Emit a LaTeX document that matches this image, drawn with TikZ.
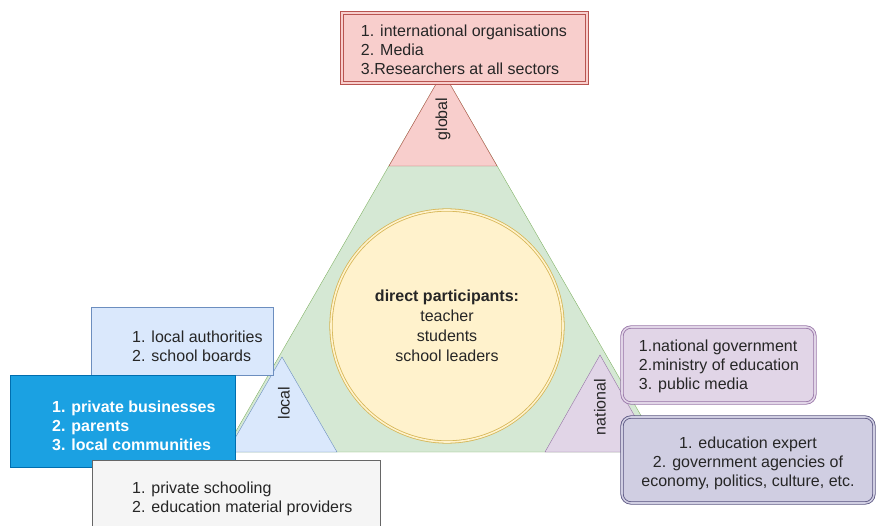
\documentclass[tikz,border=0pt]{standalone}
\usepackage{fontspec}
\setmainfont{Liberation Sans}
\usepackage{tikz}
\definecolor{redfill}{HTML}{F8CECC}
\definecolor{redline}{HTML}{B85450}
\definecolor{greenfill}{HTML}{D5E8D4}
\definecolor{greenline}{HTML}{82B366}
\definecolor{yellowfill}{HTML}{FFF2CC}
\definecolor{yellowline}{HTML}{D6B656}
\definecolor{bluefill}{HTML}{DAE8FC}
\definecolor{blueline}{HTML}{6C8EBF}
\definecolor{deepfill}{HTML}{1BA1E2}
\definecolor{deepline}{HTML}{006EAF}
\definecolor{grayfill}{HTML}{F5F5F5}
\definecolor{grayline}{HTML}{666666}
\definecolor{purplefill}{HTML}{E1D5E7}
\definecolor{purpleline}{HTML}{9673A6}
\definecolor{slatefill}{HTML}{D0CEE2}
\definecolor{slateline}{HTML}{56517E}
\definecolor{ink}{HTML}{262626}
\tikzstyle{every node}=[font=\fontsize{16}{19}\selectfont,text=ink,inner sep=0pt]
\tikzstyle{level label}=[rotate=90]
\tikzstyle{listtext}=[align=left]
\tikzstyle{double line}=[line width=0.8pt,double distance=1.6pt]
\newcommand{\level}[6]{
  \draw[fill=#1, draw=#2] (#3, #4) -- (#3-#5, #6) -- (#3+#5, #6) -- cycle;
}

\begin{document}
\begin{tikzpicture}[x=1pt,y=-1pt]
\useasboundingbox (0,0) rectangle (877,526);
\clip (0,0) rectangle (877,526);

% levels
\level{greenfill}{greenline}{443}{72}{219}{452}
\level{redfill}{redline}{443}{72}{54}{166}
\level{bluefill}{blueline}{282}{357}{55}{452}
\level{purplefill}{purpleline}{600}{355}{55}{452}

\node[level label] (global) at (443,119) {global};
\node[level label] (local) at (284,403) {local};
\node[level label] (national) at (600,407) {national};

% core
\node[circle, double line, draw=yellowline, double=yellowfill, fill=yellowfill,
      minimum size=232pt, align=center] (core) at (447,326)
  {\textbf{direct participants:}\\[1pt] teacher\\[1pt] students\\[1pt] school leaders};

% global box
\draw[double line, draw=redline, double=redfill, fill=redfill] (342,13) rectangle (587,83);
\node[listtext] (globaltext) at (464,50)
  {1. international organisations\\ 2. Media\\ 3.Researchers at all sectors};

% local boxes
\draw[fill=bluefill, draw=blueline] (91,307) rectangle (273,375);
\node[listtext, anchor=west] (authorities) at (132,346)
  {1. local authorities\\ 2. school boards};

\draw[fill=deepfill, draw=deepline] (10,375) rectangle (235,467);
\node[listtext, anchor=west, text=white, font=\fontsize{16}{19}\selectfont\bfseries]
  (private) at (52,426) {1. private businesses\\ 2. parents\\ 3. local communities};

\draw[fill=grayfill, draw=grayline] (92,460) rectangle (380,540);
\node[listtext, anchor=west] (schooling) at (132,499)
  {1. private schooling\\ 2. education material providers};

% national boxes
\draw[double line, rounded corners=9pt, draw=purpleline, double=purplefill,
      fill=purplefill] (622,327) rectangle (815,403);
\node[listtext] (government) at (719,366)
  {1.national government\\ 2.ministry of education\\ 3. public media};

\draw[double line, rounded corners=9pt, draw=slateline, double=slatefill,
      fill=slatefill] (622,417) rectangle (874,503);
\node[align=center] (experts) at (748,463)
  {1. education expert\\ 2. government agencies of\\ economy, politics, culture, etc.};

\end{tikzpicture}
\end{document}
